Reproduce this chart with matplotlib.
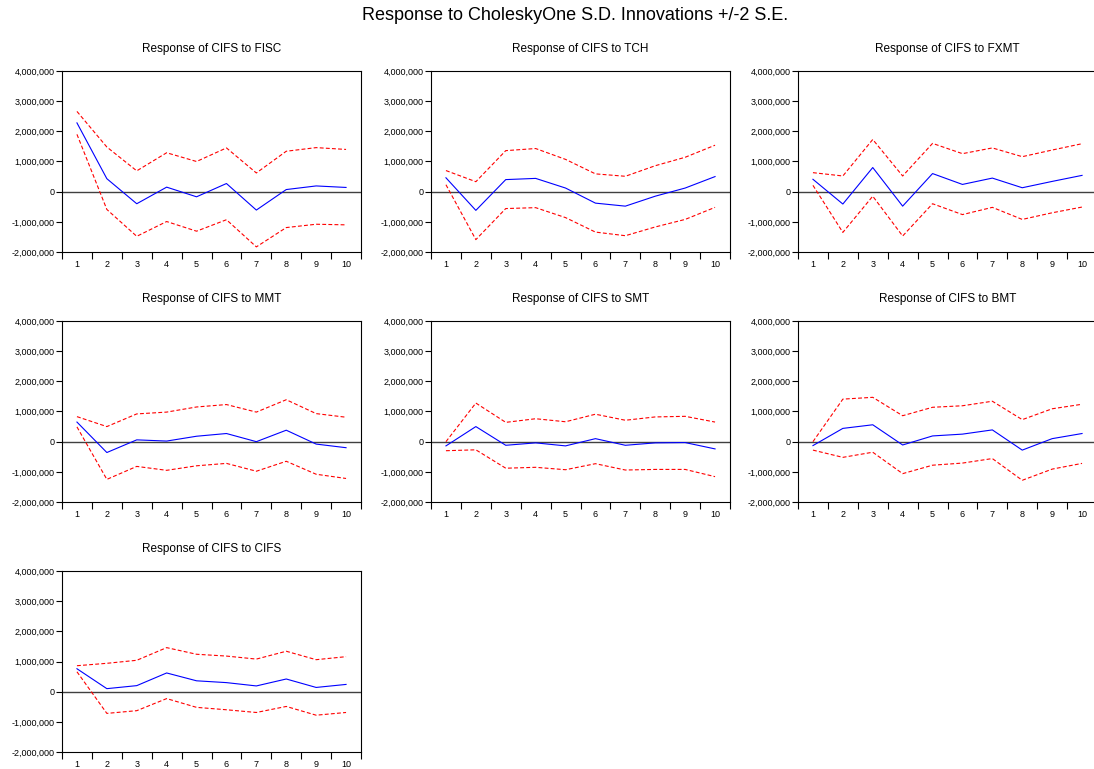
import matplotlib
matplotlib.use("Agg")
import matplotlib.pyplot as plt
import numpy as np
from matplotlib.ticker import FuncFormatter, FixedLocator

plt.rcParams['font.family'] = ['Liberation Sans', 'DejaVu Sans']

periods = list(range(1, 11))
shocks = ['FISC', 'TCH', 'FXMT', 'MMT', 'SMT', 'BMT', 'CIFS']

# impulse responses (millions)
resp_fisc = [2.28, 0.43, -0.40, 0.15, -0.17, 0.27, -0.61, 0.07, 0.19, 0.14]
upper_fisc = [2.66, 1.48, 0.69, 1.29, 1.00, 1.45, 0.62, 1.34, 1.46, 1.40]
lower_fisc = [1.90, -0.59, -1.48, -0.99, -1.31, -0.93, -1.83, -1.19, -1.08, -1.10]

resp_tch = [0.46, -0.62, 0.40, 0.44, 0.12, -0.38, -0.48, -0.15, 0.12, 0.50]
upper_tch = [0.70, 0.33, 1.36, 1.43, 1.07, 0.59, 0.51, 0.86, 1.14, 1.54]
lower_tch = [0.23, -1.59, -0.56, -0.53, -0.86, -1.34, -1.46, -1.17, -0.92, -0.52]

resp_fxmt = [0.41, -0.41, 0.80, -0.48, 0.60, 0.24, 0.45, 0.13, 0.34, 0.54]
upper_fxmt = [0.63, 0.52, 1.73, 0.52, 1.60, 1.26, 1.45, 1.16, 1.38, 1.59]
lower_fxmt = [0.21, -1.35, -0.15, -1.47, -0.40, -0.76, -0.52, -0.92, -0.70, -0.51]

resp_mmt = [0.65, -0.36, 0.06, 0.02, 0.18, 0.27, 0.00, 0.38, -0.08, -0.20]
upper_mmt = [0.83, 0.50, 0.92, 0.98, 1.15, 1.23, 0.98, 1.39, 0.93, 0.81]
lower_mmt = [0.49, -1.25, -0.82, -0.95, -0.80, -0.72, -0.98, -0.65, -1.08, -1.22]

resp_smt = [-0.14, 0.50, -0.12, -0.04, -0.14, 0.10, -0.12, -0.04, -0.03, -0.24]
upper_smt = [0.00, 1.28, 0.64, 0.76, 0.66, 0.91, 0.71, 0.82, 0.84, 0.65]
lower_smt = [-0.30, -0.27, -0.88, -0.85, -0.93, -0.73, -0.94, -0.92, -0.92, -1.16]

resp_bmt = [-0.13, 0.44, 0.56, -0.11, 0.19, 0.25, 0.39, -0.28, 0.10, 0.27]
upper_bmt = [0.00, 1.41, 1.47, 0.86, 1.14, 1.19, 1.34, 0.73, 1.09, 1.24]
lower_bmt = [-0.28, -0.52, -0.35, -1.06, -0.78, -0.71, -0.56, -1.28, -0.91, -0.72]

resp_cifs = [0.76, 0.10, 0.20, 0.62, 0.36, 0.30, 0.19, 0.42, 0.14, 0.24]
upper_cifs = [0.86, 0.94, 1.04, 1.46, 1.24, 1.18, 1.08, 1.34, 1.06, 1.16]
lower_cifs = [0.66, -0.72, -0.63, -0.23, -0.52, -0.60, -0.69, -0.49, -0.78, -0.69]

resp = [resp_fisc, resp_tch, resp_fxmt, resp_mmt, resp_smt, resp_bmt, resp_cifs]
upper = [upper_fisc, upper_tch, upper_fxmt, upper_mmt, upper_smt, upper_bmt, upper_cifs]
lower = [lower_fisc, lower_tch, lower_fxmt, lower_mmt, lower_smt, lower_bmt, lower_cifs]

W, H = 1094, 769
fig = plt.figure(figsize=(W / 100, H / 100), dpi=100)

lefts = [62, 431, 798]
tops = [71, 321, 571]
aw, ah = 299, 181

fmt = FuncFormatter(lambda v, p: '{:,.0f}'.format(v))

for k, name in enumerate(shocks):
    r, c = divmod(k, 3)
    ax = fig.add_axes([lefts[c] / W, 1 - (tops[r] + ah) / H, aw / W, ah / H])
    scale = 1e6
    ax.axhline(0, color='#404040', lw=1.0, zorder=1)
    ax.plot(periods, np.array(resp[k]) * scale, color='#0000ff', lw=0.8, zorder=3)
    ax.plot(periods, np.array(upper[k]) * scale, color='#ff0000', lw=0.8,
            dashes=(3.5, 2), zorder=2)
    ax.plot(periods, np.array(lower[k]) * scale, color='#ff0000', lw=0.8,
            dashes=(3.5, 2), zorder=2)
    ax.set_xlim(0.5, 10.5)
    ax.set_ylim(-2e6, 4e6)
    ax.set_yticks(np.arange(-2e6, 4.01e6, 1e6))
    ax.yaxis.set_major_formatter(fmt)
    ax.set_xticks(periods)
    ax.xaxis.set_minor_locator(FixedLocator(np.arange(0.5, 10.6, 1)))
    ax.tick_params(axis='x', which='major', length=0, labelsize=6.5, pad=6)
    ax.tick_params(axis='x', which='minor', length=5, width=0.8, direction='out')
    ax.tick_params(axis='y', length=4, width=0.8, direction='out', labelsize=6.5, pad=1.5)
    for s in ax.spines.values():
        s.set_linewidth(0.8)
    ax.set_title('Response of CIFS to ' + name, fontsize=8.5, pad=14)

fig.text(575 / W, 1 - 16 / H, 'Response to CholeskyOne S.D. Innovations +/-2 S.E.',
         ha='center', va='center', fontsize=13)

fig.savefig('out.png', dpi=100)
